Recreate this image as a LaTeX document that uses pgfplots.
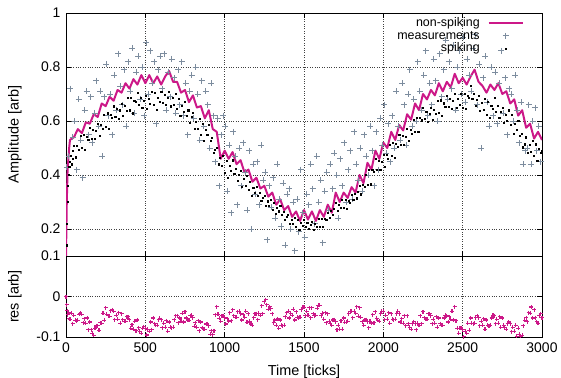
\documentclass[border=0pt]{standalone}
\usepackage{pgfplots}
\pgfplotsset{compat=1.18}
\usepackage{fontspec}
\setmainfont{Liberation Sans}
\definecolor{mag}{RGB}{204,24,136}
\definecolor{slate}{RGB}{124,140,158}
\begin{document}
\begin{tikzpicture}
\pgfplotsset{
  myaxis/.style={
    scale only axis, width=476bp, xmin=0, xmax=3000,
    tick align=inside, major tick length=5bp,
    xtick={0,500,...,3000},
    grid=major, grid style={dotted, black!75, line width=0.35pt},
    axis line style={line width=0.8pt},
    every tick/.style={black, line width=0.6pt},
    /pgf/number format/assume math mode=true,
    /pgf/number format/1000 sep={},
    tick label style={font=\fontsize{14}{15}\selectfont},
    label style={font=\fontsize{14.5}{15}\selectfont},
    xticklabel style={yshift=-2.5bp},
    yticklabel style={xshift=-2bp},
  },
}
\begin{axis}[myaxis, name=top, at={(0,0)}, anchor=north west, height=243bp,
  ymin=0.1, ymax=1, ytick={0.1,0.2,0.4,0.6,0.8,1}, xticklabels={},
  ylabel={Amplitude [arb]},
  ylabel style={at={(axis description cs:-0.086,0.5)}, anchor=south},
  legend style={at={(rel axis cs:0.962,0.982)}, anchor=north east, draw=none, fill=none,
    inner sep=0pt, row sep=1bp, column sep=8bp, font=\fontsize{12.5}{13}\selectfont,
    nodes={inner sep=0pt, text height=9bp, text depth=2.5bp}},
  legend cell align=right, legend plot pos=right,
  legend image code/.code={\draw[mark repeat=2,mark phase=2,#1] plot coordinates {(0bp,0bp) (17bp,0bp) (34bp,0bp)};},
]
\addplot[mag, line width=2pt, line join=round, no marks] coordinates {
(0,0.10)(5,0.30)(10,0.42)(20,0.50)(25,0.53)(50,0.54)(75,0.57)(100,0.555)(125,0.595)(150,0.59)(175,0.625)(200,0.615)(225,0.665)(250,0.655)(275,0.69)(300,0.675)(325,0.715)(350,0.705)(375,0.74)(400,0.72)(425,0.755)(450,0.735)(475,0.77)(500,0.74)(525,0.77)(550,0.74)(575,0.765)(600,0.735)(625,0.765)(650,0.785)(675,0.745)(700,0.745)(725,0.705)(750,0.715)(775,0.67)(800,0.695)(825,0.65)(850,0.655)(875,0.61)(900,0.64)(925,0.57)(950,0.56)(975,0.46)(1000,0.49)(1025,0.46)(1050,0.485)(1075,0.44)(1100,0.455)(1125,0.41)(1150,0.42)(1175,0.375)(1200,0.39)(1225,0.35)(1250,0.36)(1275,0.32)(1300,0.335)(1325,0.29)(1350,0.31)(1375,0.27)(1400,0.285)(1425,0.245)(1450,0.265)(1475,0.23)(1500,0.27)(1525,0.235)(1550,0.265)(1575,0.23)(1600,0.27)(1625,0.245)(1650,0.29)(1675,0.26)(1700,0.335)(1725,0.30)(1750,0.335)(1775,0.315)(1800,0.355)(1825,0.335)(1850,0.40)(1875,0.37)(1900,0.445)(1925,0.42)(1950,0.49)(1975,0.46)(2000,0.52)(2025,0.50)(2050,0.56)(2075,0.53)(2100,0.585)(2125,0.565)(2150,0.625)(2175,0.605)(2200,0.665)(2225,0.64)(2250,0.70)(2275,0.68)(2300,0.715)(2325,0.695)(2350,0.74)(2375,0.71)(2400,0.745)(2425,0.725)(2450,0.775)(2475,0.74)(2500,0.76)(2525,0.735)(2550,0.765)(2575,0.79)(2600,0.745)(2625,0.73)(2650,0.705)(2675,0.735)(2700,0.715)(2725,0.74)(2750,0.70)(2775,0.71)(2800,0.665)(2825,0.68)(2850,0.62)(2875,0.64)(2900,0.575)(2925,0.59)(2950,0.535)(2975,0.56)(3000,0.53)
};
\addlegendentry{non-spiking}
\addplot[slate, only marks, mark=+, mark size=3bp, line width=0.7pt] coordinates {
(5,0.43)(17,0.47)(28,0.72)(42,0.54)(55,0.60)(67,0.42)(80,0.68)(92,0.53)(105,0.39)(117,0.64)(130,0.71)(142,0.55)(155,0.69)(167,0.52)(180,0.63)(192,0.75)(205,0.58)(217,0.71)(230,0.47)(242,0.69)(255,0.81)(267,0.62)(280,0.70)(292,0.55)(305,0.77)(317,0.64)(330,0.85)(342,0.73)(355,0.66)(367,0.79)(380,0.58)(392,0.82)(405,0.71)(417,0.87)(430,0.63)(442,0.78)(455,0.84)(467,0.68)(480,0.80)(492,0.62)(505,0.89)(517,0.70)(530,0.86)(542,0.74)(555,0.82)(567,0.59)(580,0.79)(592,0.84)(605,0.72)(617,0.85)(630,0.64)(642,0.78)(655,0.69)(667,0.83)(680,0.76)(692,0.63)(705,0.79)(717,0.66)(730,0.82)(742,0.62)(755,0.74)(767,0.55)(780,0.71)(792,0.77)(805,0.61)(817,0.80)(830,0.70)(842,0.53)(855,0.75)(867,0.58)(880,0.71)(892,0.66)(905,0.50)(917,0.74)(930,0.62)(942,0.45)(955,0.61)(967,0.36)(980,0.55)(992,0.62)(1005,0.58)(1017,0.34)(1030,0.51)(1042,0.26)(1055,0.56)(1067,0.47)(1080,0.29)(1092,0.50)(1105,0.36)(1117,0.52)(1130,0.41)(1142,0.27)(1155,0.49)(1167,0.20)(1180,0.44)(1192,0.33)(1205,0.45)(1217,0.29)(1230,0.51)(1242,0.38)(1255,0.41)(1267,0.16)(1280,0.36)(1292,0.28)(1305,0.39)(1317,0.24)(1330,0.44)(1342,0.31)(1355,0.21)(1367,0.37)(1380,0.14)(1392,0.33)(1405,0.35)(1417,0.20)(1430,0.30)(1442,0.12)(1455,0.31)(1467,0.19)(1480,0.42)(1492,0.26)(1505,0.17)(1517,0.33)(1530,0.29)(1542,0.44)(1555,0.35)(1567,0.22)(1580,0.47)(1592,0.30)(1605,0.38)(1617,0.15)(1630,0.34)(1642,0.41)(1655,0.27)(1667,0.44)(1680,0.35)(1692,0.48)(1705,0.40)(1717,0.24)(1730,0.46)(1742,0.36)(1755,0.52)(1767,0.30)(1780,0.42)(1792,0.49)(1805,0.31)(1817,0.56)(1830,0.44)(1842,0.38)(1855,0.50)(1867,0.34)(1880,0.55)(1892,0.47)(1905,0.40)(1917,0.58)(1930,0.49)(1942,0.36)(1955,0.56)(1967,0.42)(1980,0.61)(1992,0.51)(2005,0.66)(2017,0.48)(2030,0.59)(2042,0.45)(2055,0.62)(2067,0.50)(2080,0.71)(2092,0.58)(2105,0.53)(2117,0.74)(2130,0.66)(2142,0.51)(2155,0.70)(2167,0.79)(2180,0.58)(2192,0.68)(2205,0.60)(2217,0.82)(2230,0.71)(2242,0.64)(2255,0.77)(2267,0.86)(2280,0.62)(2292,0.74)(2305,0.66)(2317,0.83)(2330,0.75)(2342,0.60)(2355,0.85)(2367,0.69)(2380,0.79)(2392,0.90)(2405,0.68)(2417,0.82)(2430,0.72)(2442,0.88)(2455,0.64)(2467,0.80)(2480,0.86)(2492,0.70)(2505,0.91)(2517,0.67)(2530,0.83)(2542,0.77)(2555,0.71)(2567,0.87)(2580,0.92)(2592,0.66)(2605,0.81)(2617,0.50)(2630,0.76)(2642,0.84)(2655,0.67)(2667,0.58)(2680,0.80)(2692,0.62)(2705,0.78)(2717,0.59)(2730,0.74)(2742,0.86)(2755,0.63)(2767,0.76)(2780,0.55)(2792,0.72)(2805,0.70)(2817,0.60)(2830,0.77)(2842,0.64)(2855,0.52)(2867,0.67)(2880,0.44)(2892,0.49)(2905,0.50)(2917,0.66)(2930,0.44)(2942,0.60)(2955,0.65)(2967,0.49)(2980,0.58)(2992,0.45)
};
\addlegendentry{measurements}
\addplot[black, only marks, mark=square*, mark size=0.55bp] coordinates {
(2,0.14)(5,0.22)(8,0.30)(12,0.36)(16,0.40)(20,0.43)(25,0.45)(30,0.47)(35,0.44)(40,0.49)(45,0.46)
(50,0.51)(60,0.466)(70,0.507)(80,0.493)(90,0.544)(100,0.50)(110,0.549)(120,0.493)(130,0.542)(140,0.531)
(150,0.575)(160,0.536)(170,0.567)(180,0.533)(190,0.564)(200,0.59)(210,0.546)(220,0.587)(230,0.573)(240,0.624)
(250,0.58)(260,0.629)(270,0.573)(280,0.622)(290,0.611)(300,0.655)(310,0.615)(320,0.645)(330,0.61)(340,0.64)
(350,0.665)(360,0.618)(370,0.656)(380,0.639)(390,0.687)(400,0.64)(410,0.687)(420,0.629)(430,0.676)(440,0.673)
(450,0.705)(460,0.661)(470,0.687)(480,0.648)(490,0.674)(500,0.695)(510,0.646)(520,0.682)(530,0.663)(540,0.709)
(550,0.66)(560,0.704)(570,0.643)(580,0.687)(590,0.671)(600,0.71)(610,0.668)(620,0.696)(630,0.659)(640,0.687)
(650,0.71)(660,0.655)(670,0.685)(680,0.66)(690,0.70)(700,0.645)(710,0.684)(720,0.618)(730,0.657)(740,0.636)
(750,0.67)(760,0.62)(770,0.64)(780,0.595)(790,0.615)(800,0.63)(810,0.572)(820,0.599)(830,0.571)(840,0.608)
(850,0.55)(860,0.591)(870,0.527)(880,0.568)(890,0.549)(900,0.585)(910,0.526)(920,0.537)(930,0.483)(940,0.494)
(950,0.50)(960,0.44)(970,0.465)(980,0.435)(990,0.47)(1000,0.41)(1010,0.453)(1020,0.391)(1030,0.434)(1040,0.417)
(1050,0.455)(1060,0.405)(1070,0.425)(1080,0.38)(1090,0.40)(1100,0.415)(1110,0.358)(1120,0.386)(1130,0.359)(1140,0.397)
(1150,0.344)(1160,0.375)(1170,0.322)(1180,0.353)(1190,0.336)(1200,0.356)(1210,0.324)(1220,0.334)(1230,0.305)(1240,0.315)
(1250,0.322)(1260,0.287)(1270,0.303)(1280,0.286)(1290,0.308)(1300,0.273)(1310,0.296)(1320,0.256)(1330,0.279)(1340,0.266)
(1350,0.286)(1360,0.254)(1370,0.264)(1380,0.235)(1390,0.245)(1400,0.252)(1410,0.218)(1420,0.235)(1430,0.219)(1440,0.242)
(1450,0.208)(1460,0.234)(1470,0.197)(1480,0.223)(1490,0.213)(1500,0.236)(1510,0.209)(1520,0.224)(1530,0.20)(1540,0.215)
(1550,0.227)(1560,0.198)(1570,0.219)(1580,0.209)(1590,0.237)(1600,0.208)(1610,0.239)(1620,0.207)(1630,0.238)(1640,0.235)
(1650,0.261)(1660,0.243)(1670,0.267)(1680,0.252)(1690,0.276)(1700,0.297)(1710,0.268)(1720,0.290)(1730,0.279)(1740,0.307)
(1750,0.278)(1760,0.308)(1770,0.275)(1780,0.305)(1790,0.299)(1800,0.326)(1810,0.307)(1820,0.330)(1830,0.314)(1840,0.337)
(1850,0.361)(1860,0.329)(1870,0.365)(1880,0.357)(1890,0.401)(1900,0.365)(1910,0.418)(1920,0.366)(1930,0.419)(1940,0.412)
(1950,0.46)(1960,0.421)(1970,0.452)(1980,0.418)(1990,0.449)(2000,0.475)(2010,0.432)(2020,0.474)(2030,0.461)(2040,0.513)
(2050,0.47)(2060,0.52)(2070,0.465)(2080,0.515)(2090,0.505)(2100,0.55)(2110,0.512)(2120,0.544)(2130,0.511)(2140,0.543)
(2150,0.57)(2160,0.526)(2170,0.567)(2180,0.553)(2190,0.604)(2200,0.56)(2210,0.612)(2220,0.559)(2230,0.611)(2240,0.603)
(2250,0.65)(2260,0.608)(2270,0.636)(2280,0.599)(2290,0.627)(2300,0.65)(2310,0.604)(2320,0.643)(2330,0.627)(2340,0.676)
(2350,0.63)(2360,0.677)(2370,0.619)(2380,0.666)(2390,0.653)(2400,0.695)(2410,0.654)(2420,0.683)(2430,0.647)(2440,0.676)
(2450,0.70)(2460,0.648)(2470,0.681)(2480,0.659)(2490,0.702)(2500,0.65)(2510,0.70)(2520,0.645)(2530,0.695)(2540,0.685)
(2550,0.73)(2560,0.681)(2570,0.702)(2580,0.658)(2590,0.679)(2600,0.695)(2610,0.639)(2620,0.668)(2630,0.642)(2640,0.681)
(2650,0.625)(2660,0.671)(2670,0.612)(2680,0.658)(2690,0.644)(2700,0.685)(2710,0.636)(2720,0.657)(2730,0.613)(2740,0.634)
(2750,0.65)(2760,0.595)(2770,0.625)(2780,0.60)(2790,0.64)(2800,0.585)(2810,0.622)(2820,0.554)(2830,0.591)(2840,0.568)
(2850,0.60)(2860,0.546)(2870,0.553)(2880,0.503)(2890,0.514)(2900,0.54)(2910,0.484)(2920,0.513)(2930,0.487)(2940,0.526)
(2950,0.47)(2960,0.514)(2970,0.452)(2980,0.497)(2990,0.481)(3000,0.49)
};
\addlegendentry{spiking}
\end{axis}
\begin{axis}[myaxis, name=bot, at={(top.south west)}, anchor=north west, height=81bp,
  ymin=-0.1, ymax=0.1, ytick={-0.1,0},
  xlabel={Time [ticks]}, ylabel={res [arb]},
  xlabel style={at={(axis description cs:0.5,-0.30)}, anchor=north},
  ylabel style={at={(axis description cs:-0.086,0.5)}, anchor=south},
]
\addplot[mag, only marks, mark=+, mark size=2bp, line width=1.1pt] coordinates {
(0,0.0)(4,-0.02)(8,-0.035)(12,-0.045)(16,-0.04)(20,-0.055)
(25,-0.056)(33,-0.041)(41,-0.067)(50,-0.046)(58,-0.059)(66,-0.06)(75,-0.059)(83,-0.044)(91,-0.041)
(100,-0.044)(108,-0.065)(116,-0.055)(125,-0.066)(133,-0.053)(141,-0.082)(150,-0.063)(158,-0.082)(166,-0.091)(175,-0.096)(183,-0.078)(191,-0.072)
(200,-0.072)(208,-0.083)(216,-0.065)(225,-0.066)(233,-0.041)(241,-0.059)(250,-0.028)(258,-0.044)(266,-0.048)(275,-0.049)(283,-0.035)(291,-0.033)
(300,-0.037)(308,-0.057)(316,-0.046)(325,-0.056)(333,-0.04)(341,-0.066)(350,-0.043)(358,-0.057)(366,-0.061)(375,-0.061)(383,-0.05)(391,-0.05)
(400,-0.057)(408,-0.078)(416,-0.07)(425,-0.081)(433,-0.061)(441,-0.084)(450,-0.058)(458,-0.077)(466,-0.086)(475,-0.091)(483,-0.078)(491,-0.075)
(500,-0.08)(508,-0.095)(516,-0.081)(525,-0.086)(533,-0.063)(541,-0.082)(550,-0.053)(558,-0.067)(566,-0.071)(575,-0.071)(583,-0.057)(591,-0.054)
(600,-0.057)(608,-0.077)(616,-0.066)(625,-0.076)(633,-0.06)(641,-0.086)(650,-0.063)(658,-0.076)(666,-0.077)(675,-0.076)(683,-0.057)(691,-0.048)
(700,-0.047)(708,-0.065)(716,-0.053)(725,-0.061)(733,-0.041)(741,-0.063)(750,-0.038)(758,-0.053)(766,-0.058)(775,-0.059)(783,-0.047)(791,-0.046)
(800,-0.052)(808,-0.073)(816,-0.065)(825,-0.076)(833,-0.06)(841,-0.085)(850,-0.063)(858,-0.077)(866,-0.08)(875,-0.081)(883,-0.068)(891,-0.067)
(900,-0.072)(908,-0.093)(916,-0.084)(925,-0.094)(933,-0.085)(941,-0.045)(950,-0.025)(958,-0.044)(966,-0.054)(975,-0.061)(983,-0.048)(991,-0.047)
(1000,-0.052)(1008,-0.068)(1016,-0.055)(1025,-0.061)(1033,-0.04)(1041,-0.06)(1050,-0.033)(1058,-0.048)(1066,-0.051)(1075,-0.051)(1083,-0.038)(1091,-0.037)
(1100,-0.042)(1108,-0.058)(1116,-0.045)(1125,-0.051)(1133,-0.036)(1141,-0.064)(1150,-0.043)(1158,-0.061)(1166,-0.068)(1175,-0.071)(1183,-0.052)(1191,-0.043)
(1200,-0.042)(1208,-0.057)(1216,-0.041)(1225,-0.046)(1233,-0.023)(1241,-0.042)(1250,-0.013)(1258,-0.008)(1266,-0.02)(1275,-0.031)(1283,-0.025)(1291,-0.03)
(1300,-0.042)(1308,-0.065)(1316,-0.058)(1325,-0.071)(1333,-0.055)(1341,-0.079)(1350,-0.058)(1358,-0.071)(1366,-0.072)(1375,-0.071)(1383,-0.05)(1391,-0.04)
(1400,-0.037)(1408,-0.053)(1416,-0.041)(1425,-0.046)(1433,-0.031)(1441,-0.058)(1450,-0.038)(1458,-0.051)(1466,-0.052)(1475,-0.051)(1483,-0.033)(1491,-0.027)
(1500,-0.027)(1508,-0.047)(1516,-0.036)(1525,-0.046)(1533,-0.028)(1541,-0.052)(1550,-0.028)(1558,-0.043)(1566,-0.047)(1575,-0.046)(1583,-0.029)(1591,-0.022)
(1600,-0.022)(1608,-0.047)(1616,-0.041)(1625,-0.056)(1633,-0.04)(1641,-0.065)(1650,-0.043)(1658,-0.061)(1666,-0.067)(1675,-0.071)(1683,-0.058)(1691,-0.057)
(1700,-0.062)(1708,-0.082)(1716,-0.071)(1725,-0.081)(1733,-0.06)(1741,-0.081)(1750,-0.053)(1758,-0.064)(1766,-0.064)(1775,-0.061)(1783,-0.043)(1791,-0.037)
(1800,-0.037)(1808,-0.052)(1816,-0.036)(1825,-0.041)(1833,-0.025)(1841,-0.049)(1850,-0.028)(1858,-0.051)(1866,-0.062)(1875,-0.071)(1883,-0.058)(1891,-0.057)
(1900,-0.062)(1908,-0.077)(1916,-0.061)(1925,-0.066)(1933,-0.045)(1941,-0.065)(1950,-0.038)(1958,-0.054)(1966,-0.059)(1975,-0.061)(1983,-0.043)(1991,-0.037)
(2000,-0.037)(2008,-0.057)(2016,-0.046)(2025,-0.056)(2033,-0.04)(2041,-0.066)(2050,-0.043)(2058,-0.056)(2066,-0.057)(2075,-0.056)(2083,-0.042)(2091,-0.037)
(2100,-0.042)(2108,-0.063)(2116,-0.055)(2125,-0.066)(2133,-0.048)(2141,-0.072)(2150,-0.048)(2158,-0.067)(2166,-0.076)(2175,-0.081)(2183,-0.067)(2191,-0.062)
(2200,-0.067)(2208,-0.082)(2216,-0.066)(2225,-0.071)(2233,-0.048)(2241,-0.067)(2250,-0.038)(2258,-0.052)(2266,-0.056)(2275,-0.056)(2283,-0.043)(2291,-0.042)
(2300,-0.047)(2308,-0.067)(2316,-0.056)(2325,-0.066)(2333,-0.05)(2341,-0.076)(2350,-0.053)(2358,-0.067)(2366,-0.071)(2375,-0.071)(2383,-0.053)(2391,-0.046)
(2400,-0.047)(2408,-0.063)(2416,-0.05)(2425,-0.056)(2433,-0.036)(2441,-0.058)(2450,-0.025)(2458,-0.06)(2466,-0.078)(2475,-0.091)(2483,-0.078)(2491,-0.077)
(2500,-0.082)(2508,-0.099)(2516,-0.086)(2525,-0.091)(2533,-0.066)(2541,-0.083)(2550,-0.053)(2558,-0.066)(2566,-0.067)(2575,-0.066)(2583,-0.052)(2591,-0.047)
(2600,-0.052)(2608,-0.072)(2616,-0.061)(2625,-0.071)(2633,-0.055)(2641,-0.081)(2650,-0.058)(2658,-0.071)(2666,-0.072)(2675,-0.071)(2683,-0.053)(2691,-0.046)
(2700,-0.047)(2708,-0.067)(2716,-0.056)(2725,-0.066)(2733,-0.05)(2741,-0.076)(2750,-0.053)(2758,-0.071)(2766,-0.077)(2775,-0.081)(2783,-0.067)(2791,-0.063)
(2800,-0.067)(2808,-0.087)(2816,-0.076)(2825,-0.086)(2833,-0.071)(2841,-0.098)(2850,-0.078)(2858,-0.093)(2866,-0.098)(2875,-0.096)(2883,-0.072)(2891,-0.059)
(2900,-0.052)(2908,-0.062)(2916,-0.04)(2925,-0.041)(2933,-0.026)(2941,-0.053)(2950,-0.033)(2958,-0.052)(2966,-0.062)(2975,-0.066)(2983,-0.048)(2991,-0.043)
(3000,-0.052)
};
\end{axis}
\pgfresetboundingbox
\path[use as bounding box] (-66bp,13bp) rectangle (495bp,-365bp);
\end{tikzpicture}
\end{document}
